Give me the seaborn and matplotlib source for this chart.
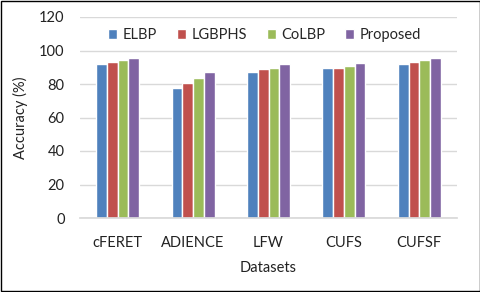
import matplotlib
matplotlib.use("Agg")
import matplotlib.pyplot as plt
import seaborn as sns
import pandas as pd
from matplotlib.patches import Rectangle

datasets = ["cFERET", "ADIENCE", "LFW", "CUFS", "CUFSF"]
methods = ["ELBP", "LGBPHS", "CoLBP", "Proposed"]
elbp = [92.0, 77.6, 87.0, 89.5, 92.0]
lgbphs = [93.0, 80.5, 88.8, 89.5, 93.0]
colbp = [94.2, 83.5, 89.4, 90.6, 94.2]
proposed = [95.5, 87.0, 91.8, 92.4, 95.5]
colors = ["#4F81BD", "#C0504D", "#9BBB59", "#8064A2"]

rows = []
for m, vals in zip(methods, [elbp, lgbphs, colbp, proposed]):
    for d, v in zip(datasets, vals):
        rows.append({"Datasets": d, "Method": m, "Accuracy": v})
df = pd.DataFrame(rows)

sns.set_theme(style="white")
plt.rcParams['font.family'] = ['Lato', 'DejaVu Sans']

fig = plt.figure(figsize=(4.81, 2.92), dpi=100)
ax = fig.add_axes([80/481, 1 - 218/292, (457-80)/481, (218-17)/292])
sns.barplot(data=df, x="Datasets", y="Accuracy", hue="Method", palette=colors,
            width=0.57, gap=0, ax=ax, saturation=1, errorbar=None)
ax.set_ylim(0, 120)
ax.set_yticks(range(0, 121, 20))
ax.set_xlim(-0.5, 4.5)
ax.yaxis.grid(True, color="#D9D9D9", linewidth=1)
ax.set_axisbelow(True)
for s in ["top", "right", "left"]:
    ax.spines[s].set_visible(False)
ax.spines["bottom"].set_color("#D9D9D9")
ax.tick_params(axis="y", length=0, labelsize=10.5, colors="#222222", pad=11)
ax.tick_params(axis="x", length=0, labelsize=10.5, colors="#222222", pad=13)
ax.set_ylabel("Accuracy (%)", fontsize=10.5, color="#222222", labelpad=8)
ax.set_xlabel("Datasets", fontsize=10.5, color="#222222", labelpad=8)
leg = ax.legend(loc="upper center", bbox_to_anchor=(0.49, 1.01), ncol=4, frameon=False,
                fontsize=10.5, handlelength=0.6, handleheight=0.6, columnspacing=1.35,
                handletextpad=0.4)
fig.patches.append(Rectangle((0.002, 0.003), 0.995, 0.994, transform=fig.transFigure,
                             fill=False, edgecolor="black", linewidth=1))
fig.savefig("out.png", dpi=100)
